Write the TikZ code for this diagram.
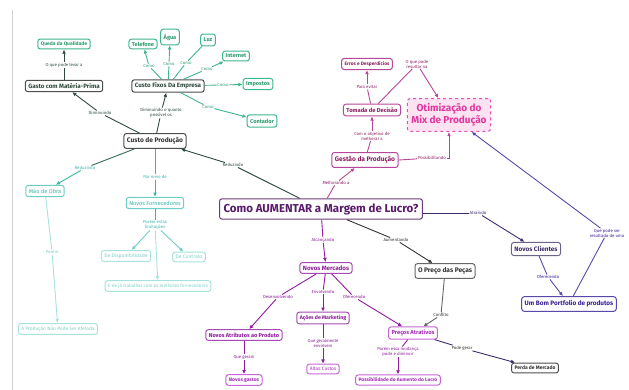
\documentclass[tikz,border=0pt]{standalone}
\usepackage{fontspec}
\setmainfont{Fira Sans}
\usetikzlibrary{arrows.meta}
\definecolor{grnB}{HTML}{3DB68C}\definecolor{grnT}{HTML}{2C9C6C}
\definecolor{dkB}{HTML}{4A4F4C}\definecolor{dkT}{HTML}{2F4A3C}
\definecolor{cyB}{HTML}{6DCFC4}\definecolor{cyT}{HTML}{38B5A8}
\definecolor{lcyB}{HTML}{A8E2DC}\definecolor{lcyT}{HTML}{7FD0C6}
\definecolor{purB}{HTML}{6B3A78}\definecolor{purT}{HTML}{5A1C6A}
\definecolor{magB}{HTML}{B7479A}\definecolor{magT}{HTML}{8C1E62}
\definecolor{otmF}{HTML}{FDE3F2}\definecolor{otmB}{HTML}{E54FB0}\definecolor{otmT}{HTML}{E0389F}
\definecolor{vioB}{HTML}{A64BB4}\definecolor{vioT}{HTML}{8E1C9C}
\definecolor{lviB}{HTML}{C766D6}\definecolor{lviT}{HTML}{A52DB8}
\definecolor{bluB}{HTML}{5A48A8}\definecolor{bluT}{HTML}{3A1E94}
\definecolor{ncB}{HTML}{6C6488}\definecolor{ncT}{HTML}{3F2C6A}
\definecolor{gyB}{HTML}{666666}\definecolor{gyT}{HTML}{333333}
\begin{document}
\begin{tikzpicture}[x=1pt,y=-1pt,
  box/.style={draw, rounded corners=2.5pt, line width=1pt, fill=white, inner xsep=3pt, inner ysep=2.6pt, align=center, font=\fontsize{5.6}{6.6}\selectfont\bfseries},
  lbl/.style={fill=white, inner sep=0.6pt, align=center, font=\fontsize{4.3}{4.9}\selectfont},
  arr/.style={line width=0.9pt, -{Latex[length=4.2pt,width=3.8pt]}},
  ln/.style={line width=0.9pt}]
\useasboundingbox (0,0) rectangle (629,390);
\draw[black!18, line width=0.6pt] (12,10) -- (12,390);
% ---------- top-left green group
\node[box, draw=grnB, text=grnT, font=\fontsize{5}{6}\selectfont\bfseries] (queda) at (64,44) {Queda da Qualidade};
\node[box, draw=dkB, text=dkT, font=\fontsize{6.2}{7.2}\selectfont\bfseries, inner ysep=3pt] (gasto) at (64,86) {Gasto com Matéria-Prima};
\node[box, draw=grnB, text=grnT] (tel) at (143,44) {Telefone};
\node[box, draw=grnB, text=grnT, inner ysep=4.5pt] (agua) at (170,37) {Água};
\node[box, draw=grnB, text=grnT, inner ysep=4pt] (luz) at (208,40) {Luz};
\node[box, draw=grnB, text=grnT, inner ysep=3pt] (inet) at (236,56) {Internet};
\node[box, draw=dkB, text=dkT, font=\fontsize{6.2}{7.2}\selectfont\bfseries, inner ysep=3pt] (cfix) at (168,86) {Custo Fixos Da Empresa};
\node[box, draw=grnB, text=grnT, inner ysep=3pt] (imp) at (258,84) {Impostos};
\node[box, draw=grnB, text=grnT, inner ysep=4pt] (cont) at (262,121) {Contador};
\node[box, draw=dkB, text=gyT, font=\fontsize{6.6}{7.6}\selectfont\bfseries, inner ysep=4pt] (cprod) at (155,141) {Custo de Produção};
% ---------- cyan group
\node[box, draw=cyB, text=cyT, font=\fontsize{5.6}{6.6}\selectfont, inner ysep=3.5pt] (mao) at (45,191) {Mão de Obra};
\node[box, draw=cyB, text=cyT, font=\fontsize{5.6}{6.6}\selectfont, inner ysep=3.5pt] (nforn) at (155,203) {Novos Fornecedores};
\node[box, draw=lcyB, text=lcyT, font=\fontsize{5}{6}\selectfont, inner ysep=3pt] (disp) at (126,256) {De Disponibilidade};
\node[box, draw=lcyB, text=lcyT, font=\fontsize{5}{6}\selectfont, inner ysep=3pt] (contr) at (189,257) {De Contrato};
\node[box, draw=lcyB, text=lcyT, font=\fontsize{4.6}{5.6}\selectfont, inner ysep=3pt] (ejat) at (158,286) {E de já trabalhar com os melhores fornecedores};
\node[box, draw=lcyB, text=lcyT, font=\fontsize{4.8}{5.8}\selectfont, inner ysep=3pt] (aprod) at (58,329) {A Produção Não Pode Ser Afetada};
% ---------- main
\node[box, draw=purB, text=purT, font=\fontsize{11.5}{13}\selectfont\bfseries, inner xsep=4pt, inner ysep=4.5pt] (main) at (321,209) {Como AUMENTAR a Margem de Lucro?};
% ---------- magenta group
\node[box, draw=magB, text=magT, font=\fontsize{6.6}{7.6}\selectfont\bfseries, inner ysep=4pt] (gest) at (365,160) {Gestão da Produção};
\node[box, draw=magB, text=magT, font=\fontsize{5.8}{6.8}\selectfont\bfseries, inner ysep=3.5pt] (toma) at (372,110) {Tomada de Decisão};
\node[box, draw=magB, text=magT, font=\fontsize{4.8}{5.8}\selectfont\bfseries, inner ysep=3pt] (erros) at (367,64) {Erros e Desperdícios};
\node[box, draw=otmB, text=otmT, fill=otmF, dashed, line width=1.1pt, font=\fontsize{10}{12}\selectfont\bfseries, inner xsep=4pt, inner ysep=5pt] (otm) at (449,115) {Otimização do\\Mix de Produção};
% ---------- right / bottom
\node[box, draw=vioB, text=vioT, font=\fontsize{6.2}{7.2}\selectfont\bfseries, inner ysep=3pt] (nmerc) at (326,268) {Novos Mercados};
\node[box, draw=gyB, text=gyT, font=\fontsize{6.6}{7.6}\selectfont\bfseries, inner ysep=4pt] (preco) at (445,271) {O Preço das Peças};
\node[box, draw=ncB, text=ncT, font=\fontsize{6.4}{7.4}\selectfont\bfseries, inner ysep=4pt] (ncli) at (536,249) {Novos Clientes};
\node[box, draw=bluB, text=bluT, font=\fontsize{6.4}{7.4}\selectfont\bfseries, inner ysep=4pt] (port) at (569,304) {Um Bom Portfolio de produtos};
\node[box, draw=vioB, text=vioT, font=\fontsize{5.6}{6.6}\selectfont\bfseries, inner ysep=3pt] (natr) at (244,335) {Novos Atributos ao Produto};
\node[box, draw=vioB, text=vioT, font=\fontsize{5.2}{6.2}\selectfont\bfseries, inner ysep=3pt] (acoes) at (323,318) {Ações de Marketing};
\node[box, draw=lviB, text=lviT, font=\fontsize{5.8}{6.8}\selectfont\bfseries, inner ysep=3pt] (precat) at (413,333) {Preços Atrativos};
\node[box, draw=lviB, text=lviT, font=\fontsize{5}{6}\selectfont\bfseries, inner ysep=3pt] (ngast) at (244,380) {Novos gastos};
\node[box, draw=lviB, text=lviT, font=\fontsize{4.8}{5.8}\selectfont, inner ysep=3pt] (altos) at (323,369) {Altos Custos};
\node[box, draw=lviB, text=lviT, font=\fontsize{4.9}{5.9}\selectfont\bfseries, inner ysep=3pt] (possib) at (398,380) {Possibilidade do Aumento do Lucro};
\node[box, draw=dkB, text=gyT, font=\fontsize{5}{6}\selectfont\bfseries, inner ysep=3pt] (perda) at (535,368) {Perda de Mercado};
% ---------- labels
\node[lbl, text=dkT] (l1) at (64,65) {O que pode levar a};
\node[lbl, text=dkT] (l2) at (100,113) {Diminuindo};
\node[lbl, text=dkT] (l3) at (161,113) {Diminuindo o quanto\\possível os};
\node[lbl, text=grnT] (lc1) at (149,66) {Como};
\node[lbl, text=grnT] (lc2) at (169,64) {Como};
\node[lbl, text=grnT] (lc3) at (186,63) {Como};
\node[lbl, text=grnT] (lc4) at (207,69) {Como};
\node[lbl, text=grnT] (lc5) at (223,85) {Como};
\node[lbl, text=grnT] (lc6) at (208,107) {Como};
\node[lbl, text=dkT] (l4) at (233,165) {Reduzindo};
\node[lbl, text=cyT] (l5) at (85,168) {Reduzindo};
\node[lbl, text=cyT] (l6) at (155,177) {Por meio de};
\node[lbl, text=cyT] (l7) at (155,225) {Porém estas\\limitações};
\node[lbl, text=lcyT] (l8) at (52,252) {Porém};
\node[lbl, text=magT] (l9) at (336,183) {Melhorando a};
\node[lbl, text=magT] (l10) at (372,136) {Com o objetivo de\\melhorar a};
\node[lbl, text=magT] (l11) at (367,87) {Para evitar};
\node[lbl, text=magT] (l12) at (417,64) {O que pode\\resultar na};
\node[lbl, text=magT] (l13) at (432,158) {Possibilitando};
\node[lbl, text=vioT] (l14) at (323,240) {Alcançando};
\node[lbl, text=gyT] (l15) at (396,240) {Aumentando};
\node[lbl, text=ncT] (l16) at (478,213) {Atraindo};
\node[lbl, text=bluT] (l17) at (548,277) {Oferecendo};
\node[lbl, text=bluT] (l18) at (607,233) {Que pode ser\\resultado de uma};
\node[lbl, text=vioT] (l19) at (278,297) {Desenvolvendo};
\node[lbl, text=vioT] (l20) at (323,292) {Envolvendo};
\node[lbl, text=vioT] (l21) at (354,297) {Oferecendo};
\node[lbl, text=vioT] (l22) at (244,357) {Que geram};
\node[lbl, text=vioT] (l23) at (323,343) {Que geralmente\\envolvem};
\node[lbl, text=vioT] (l24) at (398,352) {Porém essa mudança\\pode e diminuir};
\node[lbl, text=gyT] (l25) at (441,315) {Conflito};
\node[lbl, text=gyT] (l26) at (462,348) {Pode gerar};
% ---------- connectors
\begin{scope}[color=dkT]
\draw[ln] (gasto) -- (l1); \draw[arr] (l1) -- (queda);
\draw[ln] (cprod) -- (l2); \draw[arr] (l2) -- (gasto);
\draw[ln] (cprod) -- (l3); \draw[arr] (l3) -- (cfix);
\draw[ln] (main) -- (l4); \draw[arr] (l4) -- (cprod);
\end{scope}
\begin{scope}[color=grnB]
\draw[ln] (cfix) -- (lc1); \draw[arr] (lc1) -- (tel);
\draw[ln] (cfix) -- (lc2); \draw[arr] (lc2) -- (agua);
\draw[ln] (cfix) -- (lc3); \draw[ln] (lc3) -- (luz);
\draw[ln] (cfix) -- (lc4); \draw[arr] (lc4) -- (inet);
\draw[ln] (cfix) -- (lc5); \draw[arr] (lc5) -- (imp);
\draw[ln] (cfix) -- (lc6); \draw[arr] (lc6) -- (cont);
\end{scope}
\begin{scope}[color=cyT]
\draw[ln, color=dkT!70!cyT] (cprod) -- (l5); \draw[arr] (l5) -- (mao);
\draw[ln] (cprod) -- (l6); \draw[arr] (l6) -- (nforn);
\draw[ln] (nforn) -- (l7); \draw[arr, color=cyB] (l7) -- (disp); \draw[arr, color=cyB] (l7) -- (contr);
\draw[arr, color=lcyB] (l7) -- (ejat);
\draw[ln, color=lcyB] (mao) -- (l8); \draw[arr, color=lcyB] (l8) -- (aprod);
\end{scope}
\begin{scope}[color=magB]
\draw[ln] (main) -- (l9); \draw[arr] (l9) -- (gest);
\draw[ln] (gest) -- (l10); \draw[arr] (l10) -- (toma);
\draw[ln] (toma) -- (l11); \draw[arr] (l11) -- (erros);
\draw[ln] (toma) -- (l12); \draw[arr] (l12) -- (otm);
\draw[ln] (gest.east) -- (l13); \draw[arr] (l13.east) -- (449,158) -- (otm.south);
\end{scope}
\draw[ln, color=vioT] (main) -- (l14); \draw[arr, color=vioT] (l14) -- (nmerc);
\draw[ln, color=gyT] (main) -- (l15); \draw[arr, color=gyT] (l15) -- (preco);
\draw[ln, color=ncT] (main.east |- l16) -- (l16); \draw[arr, color=ncT] (l16) -- (ncli);
\draw[ln, color=bluB] (ncli) -- (l17); \draw[arr, color=bluB] (l17) -- (port);
\draw[ln, color=bluB] (port) -- (l18); \draw[arr, color=bluB] (l18) -- (otm);
\begin{scope}[color=vioT]
\draw[ln] (nmerc) -- (l19); \draw[arr] (l19) -- (natr);
\draw[ln] (nmerc) -- (l20); \draw[arr] (l20) -- (acoes);
\draw[ln] (nmerc) -- (l21); \draw[arr] (l21) -- (precat);
\draw[ln] (natr) -- (l22); \draw[arr] (l22) -- (ngast);
\draw[ln] (acoes) -- (l23); \draw[arr] (l23) -- (altos);
\draw[ln] (precat) -- (l24); \draw[arr] (l24) -- (possib);
\end{scope}
\draw[ln, color=gyB] (preco) -- (l25); \draw[arr, color=gyB] (l25) -- (precat);
\draw[ln, color=ncT] (precat) -- (l26); \draw[arr, color=ncT] (l26) -- (perda);
\end{tikzpicture}
\end{document}
